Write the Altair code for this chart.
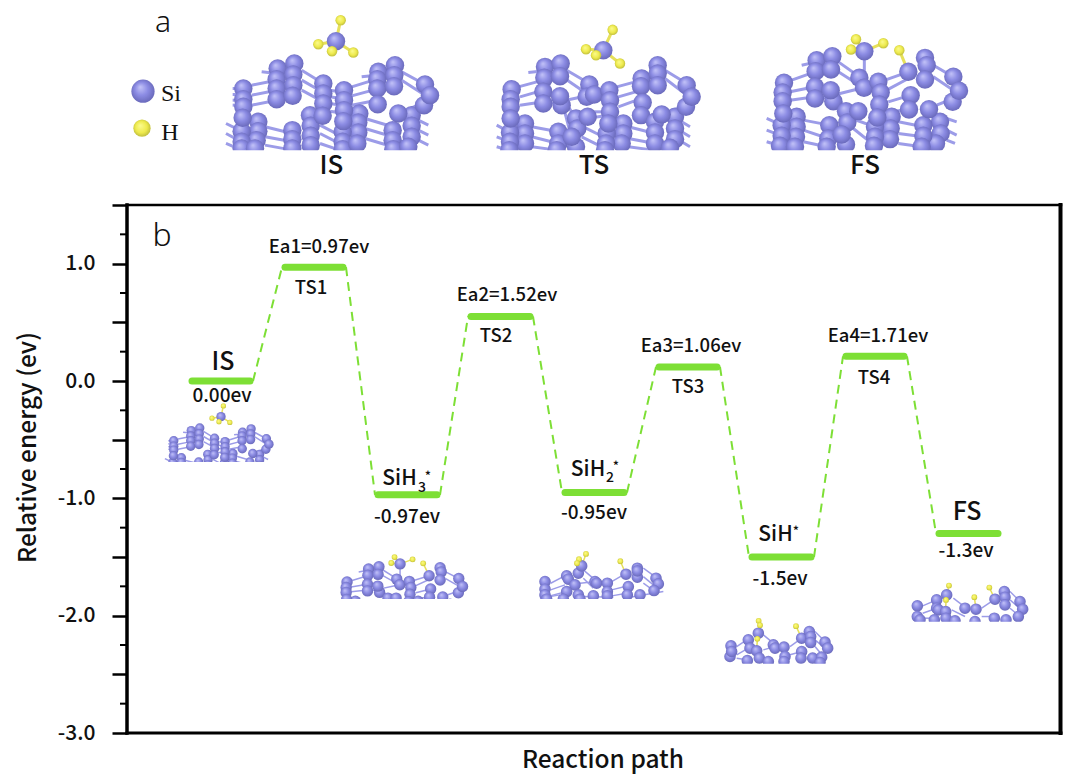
import altair as alt
import pandas as pd

FONT = "Noto Sans CJK SC"
GREEN = "#7ddf35"
BOND = "#9c9ce8"
HBOND = "#e6e05a"

# ---------- energy diagram ----------
level_names = ["IS", "TS1", "SiH3", "TS2", "SiH2", "TS3", "SiH", "TS4", "FS"]
level_energy = [0.0, 0.97, -0.97, 0.55, -0.95, 0.12, -1.5, 0.21, -1.3]
level_start = [192, 285, 378, 471, 565, 659, 752, 846, 939]
level_end = [250, 343, 437, 530, 624, 717, 811, 904, 998]

y_major = [-3, -2.5, -2, -1.5, -1, -0.5, 0, 0.5, 1, 1.5]
y_minor = [-2.75, -2.25, -1.75, -1.25, -0.75, -0.25, 0.25, 0.75, 1.25]

# ---------- text: label, x, y, size, weight ----------
labels = [
    ("IS", 331.5, 166, 26, 500), ("TS", 594, 166, 26, 500), ("FS", 865, 166, 26, 500),
    ("IS", 223, 362, 25, 500), ("FS", 967, 512, 25, 500),
    ("0.00ev", 222, 396, 19, 500), ("-0.97ev", 407, 517, 19, 500),
    ("-0.95ev", 594, 513, 19, 500), ("-1.5ev", 780, 579, 19, 500), ("-1.3ev", 966, 551, 19, 500),
    ("Ea1=0.97ev", 319, 247, 18.5, 500), ("Ea2=1.52ev", 507, 295, 18.5, 500),
    ("Ea3=1.06ev", 691, 346, 18.5, 500), ("Ea4=1.71ev", 878, 336, 18.5, 500),
    ("TS1", 311, 288, 18.5, 500), ("TS2", 496, 336, 18.5, 500),
    ("TS3", 688, 387, 18.5, 500), ("TS4", 874, 378, 18.5, 500),
    ("SiH", 399.5, 479, 21, 500), ("3", 422, 488, 14, 500), ("*", 428, 477, 13, 500),
    ("SiH", 588, 470, 21, 500), ("2", 610, 478, 14, 500), ("*", 616, 467, 13, 500),
    ("SiH", 775.5, 535, 21, 500), ("*", 796, 532, 13, 500),
    ("a", 163, 23, 30, 300), ("b", 162, 236, 32, 300),
    ("Reaction path", 603, 761, 24.5, 500),
]
serif_labels = [("Si", 171, 94, 24), ("H", 170, 133, 24)]

legend_si = [(143, 91)]
legend_h = [(142, 128)]

# ---------- structures, in crop pixels ----------
is_si = [(370,250),(370,282),(370,305),(415,350),(415,378),(410,405),(365,378),(365,410),(365,430),(405,430),(368,338),
 (473,190),(470,222),(470,250),(470,282),(523,175),(520,208),(520,240),(518,272),
 (517,375),(517,402),(517,430),(570,330),(572,362),(572,392),(572,420),
 (610,235),(610,265),(610,295),(608,332),
 (718,325),(715,352),(715,382),(668,380),(668,410),(668,432),(712,415),
 (672,255),(672,285),(672,315),(670,348),
 (775,200),(772,222),(772,250),(773,297),(825,180),(823,210),(822,243),
 (875,330),(875,362),(875,395),(818,375),(818,405),(820,432),(865,425),(835,325),
 (915,238),(912,300),(930,270),(648,108)]
is_h = [(662,45),(595,117),(636,138),(700,142)]
is_bonds = [(395,240,470,225),(395,270,470,255),(395,300,470,285),(425,200,470,205),
 (545,195,610,235),(545,225,610,262),(545,255,610,290),
 (695,245,770,222),(695,272,770,252),(695,300,770,285),(725,215,770,210),
 (845,200,915,238),(845,225,915,270),(860,315,915,290),
 (318,355,365,378),(318,385,365,410),(318,415,365,435),
 (435,365,517,385),(435,395,517,410),(435,420,517,435),
 (600,360,668,395),(600,385,668,420),(600,415,650,432),
 (735,340,818,365),(735,370,818,395),(735,400,818,425),
 (895,345,925,360),(895,375,925,390),(895,405,925,420),
 (338,250,370,250),(338,268,370,268),(338,285,370,285),(338,300,370,300),
 (630,255,672,262),(630,275,672,282),(630,295,672,302),(630,318,672,325)]
is_hbonds = [(648,108,662,45),(648,108,595,117),(648,108,636,138),(648,108,700,142)]

ts_si = [(65,222),(62,252),(62,275),(105,325),(105,355),(105,385),(60,352),(60,380),(58,405),(62,310),
 (165,155),(163,188),(160,230),(160,265),(212,145),(210,183),(215,270),(210,243),
 (205,350),(205,385),(200,405),(258,310),(262,340),(258,395),(245,365),
 (298,208),(290,245),(312,238),(293,305),
 (400,325),(400,355),(395,385),(350,355),(348,385),(345,405),
 (358,225),(360,255),(360,290),(355,325),
 (455,190),(453,213),(503,150),(503,175),(503,210),(458,262),(453,300),
 (555,305),(555,340),(555,372),(495,320),(495,352),(495,385),(540,398),(515,298),
 (590,210),(588,275),(605,245),(340,105)]
ts_h = [(368,44),(288,102),(318,120),(390,145)]
ts_bonds = [(85,215,160,195),(90,245,160,225),(90,270,160,260),(115,172,150,168),
 (230,165,298,205),(232,195,290,235),(235,275,258,310),(180,265,300,240),
 (380,215,455,195),(385,245,455,225),(385,275,440,255),(525,165,590,205),(525,190,590,240),
 (525,300,590,265),(215,255,240,350),(315,290,355,290),(290,310,355,300),
 (20,330,60,352),(20,365,60,380),(20,395,55,405),(125,335,205,350),(125,365,205,385),(125,395,200,405),
 (275,365,345,400),(280,335,350,370),(415,335,495,355),(415,370,495,385),(415,395,490,405),
 (575,320,600,335),(575,350,600,365),(575,380,600,395)]
ts_hbonds = [(340,105,368,44),(340,105,288,102),(340,105,318,120),(340,105,390,145)]

fs_si = [(72,203),(68,232),(68,258),(110,305),(110,335),(108,365),(65,330),(65,362),(60,392),(105,395),(70,295),
 (170,135),(167,168),(165,215),(165,250),(217,123),(213,163),(220,258),(212,225),
 (208,330),(205,370),(200,395),(258,288),(262,322),(258,388),(245,358),
 (298,188),(312,218),(295,288),
 (395,305),(392,340),(390,372),(345,335),(345,365),(342,392),
 (355,200),(362,232),(358,268),(352,307),
 (495,128),(500,150),(495,193),(452,240),(447,283),(445,170),
 (540,320),(542,355),(528,385),(490,330),(490,362),(485,395),(507,282),
 (580,185),(578,260),(597,227),(313,108)]
fs_h = [(288,72),(273,103),(370,84),(418,105)]
fs_bonds = [(95,195,165,170),(90,230,165,215),(90,255,165,245),(125,150,170,140),
 (235,140,298,185),(235,170,298,210),(230,235,258,290),(180,250,300,220),(313,108,313,218),
 (375,195,445,170),(380,225,445,190),(385,260,452,240),(390,290,447,283),
 (520,150,580,185),(520,185,580,225),(530,270,580,250),
 (20,310,65,330),(20,345,65,362),(20,380,60,392),(130,315,208,330),(130,345,205,370),(130,380,200,395),
 (280,340,342,390),(275,310,345,335),(415,320,490,335),(415,355,490,365),(415,385,485,395),
 (560,310,590,320),(560,345,590,360),(560,375,585,385)]
fs_hbonds = [(445,170,418,105),(313,108,370,84),(313,108,288,72),(313,108,273,103)]

sih2_si = [(45,125),(45,148),(45,165),(110,108),(115,118),(145,100),(155,78),(135,135),(110,155),(145,165),
 (195,125),(200,130),(232,130),(232,155),(190,168),(232,168),(288,103),(322,85),(322,112),(322,93),
 (295,140),(292,165),(330,165),(378,115),(385,132),(372,152),(50,178),(100,178),(150,178)]
sih2_h = [(168,42),(147,58),(141,70),(271,64)]
sih2_bonds = [(62,130,100,110),(62,150,105,135),(60,168,110,155),(160,90,195,120),(160,115,190,145),
 (245,125,280,105),(245,150,285,140),(245,168,290,160),(340,85,375,110),(340,110,370,135),(340,130,375,155),
 (150,130,200,125),(30,175,90,165),(160,170,250,172),(300,172,400,155)]
sih2_hbonds = [(155,78,168,42),(271,64,288,103)]

sih_si = [(603,318),(600,350),(605,335),(655,300),(660,325),(685,280),(680,333),(652,362),(688,355),(730,315),
 (735,325),(762,322),(765,350),(762,365),(815,295),(838,275),(842,290),(842,308),(815,335),(813,355),(848,355),
 (885,307),(893,325),(875,352),(715,365),(870,368)]
sih_h = [(686,243),(690,256),(682,297),(798,259)]
sih_bonds = [(620,320,650,300),(620,345,655,325),(620,355,650,360),(700,285,730,310),(700,330,735,320),
 (780,320,815,295),(780,345,815,335),(855,275,885,305),(855,300,885,325),(855,320,880,350)]
sih_hbonds = [(685,280,690,256),(682,297,680,333),(798,259,815,295)]

fsi_si = [(52,258),(52,290),(60,300),(110,240),(110,265),(140,225),(115,270),(137,275),(138,295),(103,300),
 (195,265),(228,268),(285,238),(313,215),(315,232),(315,255),(283,295),(318,300),(360,245),(368,268),(355,290),
 (165,303),(225,305)]
fsi_h = [(147,197),(268,203),(223,232),(138,240)]
fsi_bonds = [(68,258,110,240),(68,280,110,265),(68,295,103,295),(160,235,195,262),(155,270,195,290),
 (245,265,285,238),(245,290,283,290),(330,215,360,245),(330,240,365,270),(330,265,360,290)]
fsi_hbonds = [(147,197,140,225),(268,203,285,238),(223,232,228,268),(138,240,137,275)]

# crop origin x, origin y, scale x, scale y, Si size, H size, bond width, Si list, H list, bonds, H bonds
structures = [
    (120, 5, 1/3, 1/3, 340, 110, 3, is_si, is_h, is_bonds, is_hbonds),
    (490, 15, 1/3, 1/3, 340, 110, 3, ts_si, ts_h, ts_bonds, ts_hbonds),
    (760, 15, 1/3, 1/3, 340, 110, 3, fs_si, fs_h, fs_bonds, fs_hbonds),
    (110.84, 398.3, 0.17, 0.17, 88, 28, 1.5, is_si, is_h, is_bonds, is_hbonds),
    (331.2, 543.5, 0.22, 0.19, 130, 34, 1.5, fs_si, fs_h, fs_bonds, fs_hbonds),
    (530, 540, 1/3, 1/3, 135, 34, 1.5, sih2_si, sih2_h, sih2_bonds, sih2_hbonds),
    (530, 540, 1/3, 1/3, 135, 34, 1.5, sih_si, sih_h, sih_bonds, sih_hbonds),
    (900, 520, 1/3, 1/3, 135, 34, 1.5, fsi_si, fsi_h, fsi_bonds, fsi_hbonds),
]
# white strips that trim the bottom of each slab: x, x2, top, bottom
trims = [(215, 990, 150, 161), (160, 282, 462, 484), (335, 475, 599, 628),
         (535, 670, 599, 610), (720, 840, 664, 675), (905, 1035, 622, 634)]


def ev(py):
    """picture row to energy on the y scale (117.4 px per eV, 0 eV at row 381)"""
    return (381 - py) / 117.4


si_rows, h_rows, bond_rows, hbond_rows = [], [], [], []
for ox, oy, sx, sy, ssi, sh, bw, si, h, bonds, hbonds in structures:
    si_rows += [dict(x=ox + a * sx, y=ev(oy + b * sy), s=ssi) for a, b in si]
    h_rows += [dict(x=ox + a * sx, y=ev(oy + b * sy), s=sh) for a, b in h]
    bond_rows += [dict(x=ox + a * sx, x2=ox + c * sx, y=ev(oy + b * sy), y2=ev(oy + d * sy), w=bw)
                  for a, b, c, d in bonds]
    hbond_rows += [dict(x=ox + a * sx, x2=ox + c * sx, y=ev(oy + b * sy), y2=ev(oy + d * sy), w=bw)
                   for a, b, c, d in hbonds]
si_rows += [dict(x=a, y=ev(b), s=540) for a, b in legend_si]
h_rows += [dict(x=a, y=ev(b), s=300) for a, b in legend_h]

x_scale = alt.Scale(domain=[127, 1061], nice=False, zero=False)
y_scale = alt.Scale(domain=[-3, 1.5], nice=False, zero=False)
y_axis = alt.Axis(
    values=y_major,
    labelExpr="datum.value % 1 === 0 ? (datum.value < 0 ? '-' : '') + format(abs(datum.value), '.1f') : ''",
    grid=False, domain=False, tickColor="black", tickWidth=2.5, tickSize=15, labelPadding=17,
    labelFont=FONT, labelFontSize=21, labelFontWeight=500, labelColor="#111111",
    title="Relative energy (ev)", titleFont=FONT, titleFontSize=24.5, titleFontWeight=500, titleColor="#111111",
    titleX=-99, titleY=242, titleAnchor="middle", titleAlign="center", titleBaseline="middle")
X = alt.X("x:Q", scale=x_scale, axis=None)
Y = alt.Y("y:Q", scale=y_scale, axis=y_axis)
X2 = alt.X2("x2:Q")
Y2 = alt.Y2("y2:Q")

si_fill = alt.RadialGradient(gradient="radial", x1=0.38, y1=0.32, r1=0.0, x2=0.5, y2=0.5, r2=0.62,
                             stops=[alt.GradientStop(offset=0, color="#c4c4f8"),
                                    alt.GradientStop(offset=0.45, color="#8c8ce4"),
                                    alt.GradientStop(offset=1, color="#5d5dac")])
h_fill = alt.RadialGradient(gradient="radial", x1=0.4, y1=0.35, r1=0.0, x2=0.5, y2=0.5, r2=0.62,
                            stops=[alt.GradientStop(offset=0, color="#fbfb90"),
                                   alt.GradientStop(offset=0.55, color="#eeea4c"),
                                   alt.GradientStop(offset=1, color="#a8a838")])

bond_layer = alt.Chart(pd.DataFrame(bond_rows)).mark_rule(color=BOND, clip=False).encode(
    x=X, x2=X2, y=Y, y2=Y2, strokeWidth=alt.StrokeWidth("w:Q", scale=None))
hbond_layer = alt.Chart(pd.DataFrame(hbond_rows)).mark_rule(color=HBOND, clip=False).encode(
    x=X, x2=X2, y=Y, y2=Y2, strokeWidth=alt.StrokeWidth("w:Q", scale=None))
si_layer = alt.Chart(pd.DataFrame(si_rows)).mark_point(filled=True, shape="circle", opacity=1, fill=si_fill,
                                                       clip=False).encode(
    x=X, y=Y, size=alt.Size("s:Q", scale=None))
h_layer = alt.Chart(pd.DataFrame(h_rows)).mark_point(filled=True, shape="circle", opacity=1, fill=h_fill,
                                                     clip=False).encode(
    x=X, y=Y, size=alt.Size("s:Q", scale=None))
trim_layer = alt.Chart(pd.DataFrame(
    [dict(x=a, x2=b, y=ev(c), y2=ev(d)) for a, b, c, d in trims])).mark_rect(color="white", clip=False).encode(
    x=X, x2=X2, y=Y, y2=Y2)

# connectors and levels
conn_rows = []
for i in range(len(level_energy) - 1):
    conn_rows.append(dict(x=level_end[i] + 3, x2=level_start[i + 1] - 3,
                          y=level_energy[i], y2=level_energy[i + 1]))
conn_layer = alt.Chart(pd.DataFrame(conn_rows)).mark_rule(color=GREEN, strokeWidth=2, strokeDash=[9, 6],
                                                          clip=False).encode(x=X, x2=X2, y=Y, y2=Y2)
level_layer = alt.Chart(pd.DataFrame(dict(name=level_names, x=level_start, x2=level_end, y=level_energy))
                        ).mark_rule(color=GREEN, strokeWidth=7, strokeCap="round", clip=False).encode(
    x=X, x2=X2, y=Y)

# frame and ticks
frame_rows = [dict(x=127, x2=1061, y=1.5, y2=1.5, w=2.5), dict(x=127, x2=1061, y=-3, y2=-3, w=3),
              dict(x=127, x2=127, y=-3, y2=1.5, w=3.5), dict(x=1060.5, x2=1060.5, y=-3, y2=1.5, w=4)]
frame_layer = alt.Chart(pd.DataFrame(frame_rows)).mark_rule(color="black", clip=False, strokeCap="square").encode(
    x=X, x2=X2, y=Y, y2=Y2, strokeWidth=alt.StrokeWidth("w:Q", scale=None))
minor_layer = alt.Chart(pd.DataFrame(dict(x=[120] * len(y_minor), x2=[127] * len(y_minor), y=y_minor))
                        ).mark_rule(color="black", strokeWidth=2, clip=False).encode(x=X, x2=X2, y=Y)

text_layer = alt.Chart(pd.DataFrame(
    [dict(t=a, x=b, y=ev(c), s=d, w=e) for a, b, c, d, e in labels if e == 500])).mark_text(
    font=FONT, fontWeight=500, color="#111111", baseline="middle", align="center", clip=False).encode(
    x=X, y=Y, text="t:N", size=alt.Size("s:Q", scale=None))
light_layer = alt.Chart(pd.DataFrame(
    [dict(t=a, x=b, y=ev(c), s=d) for a, b, c, d, e in labels if e == 300])).mark_text(
    font="Noto Sans", fontWeight=300, color="#111111", baseline="middle", align="center", clip=False).encode(
    x=X, y=Y, text="t:N", size=alt.Size("s:Q", scale=None))
serif_layer = alt.Chart(pd.DataFrame(
    [dict(t=a, x=b, y=ev(c), s=d) for a, b, c, d in serif_labels])).mark_text(
    font="Liberation Serif", color="#111111", baseline="middle", align="center", clip=False).encode(
    x=X, y=Y, text="t:N", size=alt.Size("s:Q", scale=None))

chart = alt.layer(
    bond_layer, hbond_layer, si_layer, h_layer, trim_layer,
    conn_layer, level_layer, minor_layer, frame_layer,
    text_layer, light_layer, serif_layer,
).properties(
    width=934, height=528, autosize="none",
    padding={"left": 119, "top": 197, "right": 11, "bottom": 42},
).configure_view(stroke=None)

chart.save("out.html", embed_options={"renderer": "svg", "actions": False})
